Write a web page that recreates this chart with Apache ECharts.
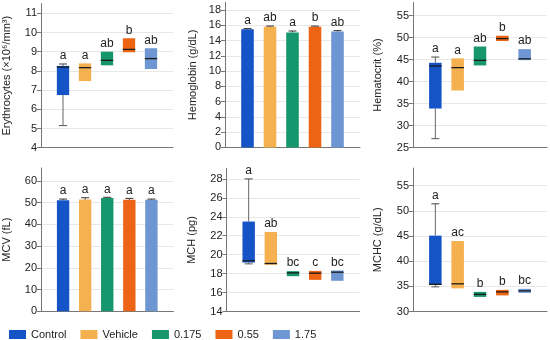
<!DOCTYPE html>
<html><head><meta charset="utf-8">
<script src="https://cdn.jsdelivr.net/npm/echarts@6/dist/echarts.min.js"></script>
<style>html,body{margin:0;padding:0;background:#fff}#c{width:550px;height:340px}</style>
</head><body><div id="c"></div>
<script>
// ---------- data ----------
const groups = ['Control', 'Vehicle', '0.175', '0.55', '1.75'];
const groupColors = ['#1554c6', '#f5b04f', '#16966c', '#ec6414', '#6e96d2'];

// Erythrocytes (box: low, high, median, whisker low, whisker high)
const eryLow = [6.74, 7.47, 8.29, 8.97, 8.10];
const eryHigh = [8.26, 8.39, 9.00, 9.70, 9.18];
const eryMedian = [8.20, 8.17, 8.55, 9.12, 8.64];
const eryWhiskerLow = [5.15, null, null, null, null];
const eryWhiskerHigh = [8.36, null, null, null, null];
const eryLetters = ['a', 'a', 'ab', 'b', 'ab'];
const eryTicks = [4, 5, 6, 7, 8, 9, 10, 11];

// Hemoglobin (bar: mean, upper error)
const hbMean = [15.47, 15.80, 15.07, 15.80, 15.20];
const hbErr = [0.10, 0.10, 0.18, 0.10, 0.10];
const hbLetters = ['a', 'ab', 'a', 'b', 'ab'];
const hbTicks = [0, 2, 4, 6, 8, 10, 12, 14, 16, 18];

// Hematocrit
const hctLow = [33.9, 38.0, 43.7, 49.24, 44.9];
const hctHigh = [44.3, 45.3, 48.0, 50.45, 47.4];
const hctMedian = [43.56, 43.2, 44.85, 49.8, 45.2];
const hctWhiskerLow = [27.05, null, null, null, null];
const hctWhiskerHigh = [45.6, null, null, null, null];
const hctLetters = ['a', 'a', 'ab', 'b', 'ab'];
const hctTicks = [25, 30, 35, 40, 45, 50, 55];

// MCV
const mcvMean = [51.2, 51.5, 52.2, 51.4, 51.4];
const mcvErr = [0.5, 0.8, 0.3, 0.6, 0.3];
const mcvLetters = ['a', 'a', 'a', 'a', 'a'];
const mcvTicks = [0, 10, 20, 30, 40, 50, 60];

// MCH
const mchLow = [19.17, 18.93, 17.73, 17.34, 17.24];
const mchHigh = [23.5, 22.4, 18.26, 18.29, 18.33];
const mchMedian = [19.35, 19.07, 18.08, 18.05, 18.15];
const mchWhiskerLow = [19.03, null, null, null, null];
const mchWhiskerHigh = [28.0, null, null, null, null];
const mchLetters = ['a', 'ab', 'bc', 'c', 'bc'];
const mchTicks = [14, 16, 18, 20, 22, 24, 26, 28];

// MCHC
const mchcLow = [35.3, 34.6, 32.9, 33.2, 33.7];
const mchcHigh = [45.08, 44.0, 33.9, 34.3, 34.5];
const mchcMedian = [35.4, 35.5, 33.4, 33.9, 34.1];
const mchcWhiskerLow = [34.9, null, null, null, null];
const mchcWhiskerHigh = [51.4, null, null, null, null];
const mchcLetters = ['a', 'ac', 'b', 'b', 'bc'];
const mchcTicks = [30, 35, 40, 45, 50, 55];

// ---------- panels ----------
const panels = [
  {kind: 'box', title: 'Erythrocytes (×10⁶/mm³)', low: eryLow, high: eryHigh, med: eryMedian, wl: eryWhiskerLow, wh: eryWhiskerHigh, letters: eryLetters, ticks: eryTicks, min: 4, max: 11.5},
  {kind: 'bar', title: 'Hemoglobin (g/dL)', mean: hbMean, err: hbErr, letters: hbLetters, ticks: hbTicks, min: 0, max: 19},
  {kind: 'box', title: 'Hematocrit (%)', low: hctLow, high: hctHigh, med: hctMedian, wl: hctWhiskerLow, wh: hctWhiskerHigh, letters: hctLetters, ticks: hctTicks, min: 25, max: 58},
  {kind: 'bar', title: 'MCV (fL)', mean: mcvMean, err: mcvErr, letters: mcvLetters, ticks: mcvTicks, min: 0, max: 66},
  {kind: 'box', title: 'MCH (pg)', low: mchLow, high: mchHigh, med: mchMedian, wl: mchWhiskerLow, wh: mchWhiskerHigh, letters: mchLetters, ticks: mchTicks, min: 14, max: 29.1},
  {kind: 'box', title: 'MCHC (g/dL)', low: mchcLow, high: mchcHigh, med: mchcMedian, wl: mchcWhiskerLow, wh: mchcWhiskerHigh, letters: mchcLetters, ticks: mchcTicks, min: 30, max: 58.5}
];

const gridLayout = [
  {left: 40, top: 3.7, width: 133, height: 144},
  {left: 225, top: 2.4, width: 135, height: 145},
  {left: 413, top: 2.5, width: 134, height: 145.2},
  {left: 39.5, top: 168, width: 134, height: 143.3},
  {left: 226.5, top: 168.5, width: 133, height: 143},
  {left: 413, top: 168.1, width: 134, height: 143.4}
];
const nameGaps = [29, 27, 30, 29, 29, 30];

const FONT = 'Liberation Sans, Arial, sans-serif';
const TXT = '#222';
const AXIS = '#777';

function letterText(x, y, txt) {
  return {type: 'text', style: {x: x, y: y, text: txt, fill: TXT, font: '12px ' + FONT, textAlign: 'center', textVerticalAlign: 'bottom'}};
}

function boxRenderer(letter, color) {
  return function (params, api) {
    const x = api.value(0);
    const lo = api.value(1), hi = api.value(2), med = api.value(3), wl = api.value(4), wh = api.value(5);
    const w = api.size([1, 0])[0] * 0.56;
    const pLo = api.coord([x, lo]), pHi = api.coord([x, hi]), pMed = api.coord([x, med]);
    const cx = pLo[0];
    const children = [];
    let topY = pHi[1];
    const cap = 4;
    if (!isNaN(wl) && wl !== null) {
      const p = api.coord([x, wl]);
      children.push({type: 'line', shape: {x1: cx, y1: pLo[1], x2: cx, y2: p[1]}, style: {stroke: '#666', lineWidth: 1}});
      children.push({type: 'line', shape: {x1: cx - cap, y1: p[1], x2: cx + cap, y2: p[1]}, style: {stroke: '#555', lineWidth: 1}});
    }
    if (!isNaN(wh) && wh !== null) {
      const p = api.coord([x, wh]);
      children.push({type: 'line', shape: {x1: cx, y1: pHi[1], x2: cx, y2: p[1]}, style: {stroke: '#666', lineWidth: 1}});
      children.push({type: 'line', shape: {x1: cx - cap, y1: p[1], x2: cx + cap, y2: p[1]}, style: {stroke: '#444', lineWidth: 1}});
      topY = Math.min(topY, p[1]);
    }
    children.push({type: 'rect', shape: {x: cx - w / 2, y: pHi[1], width: w, height: pLo[1] - pHi[1]}, style: {fill: color}});
    children.push({type: 'line', shape: {x1: cx - w / 2, y1: pMed[1], x2: cx + w / 2, y2: pMed[1]}, style: {stroke: '#1a1a1a', lineWidth: 1.3}});
    children.push(letterText(cx, topY - 2, letter));
    return {type: 'group', children: children};
  };
}

function barRenderer(letter, color) {
  return function (params, api) {
    const x = api.value(0), m = api.value(1), e = api.value(2);
    const w = api.size([1, 0])[0] * 0.56;
    const p0 = api.coord([x, 0]), pM = api.coord([x, m]), pE = api.coord([x, m + e]);
    const cx = p0[0];
    const cap = 4;
    return {type: 'group', children: [
      {type: 'rect', shape: {x: cx - w / 2, y: pM[1], width: w, height: p0[1] - pM[1]}, style: {fill: color}},
      {type: 'line', shape: {x1: cx, y1: pM[1], x2: cx, y2: pE[1]}, style: {stroke: '#333', lineWidth: 1}},
      {type: 'line', shape: {x1: cx - cap, y1: pE[1], x2: cx + cap, y2: pE[1]}, style: {stroke: '#333', lineWidth: 1}},
      letterText(cx, pE[1] - 2, letter)
    ]};
  };
}

const grid = [], xAxis = [], yAxis = [], series = [];
panels.forEach(function (p, k) {
  grid.push(Object.assign({containLabel: false}, gridLayout[k]));
  xAxis.push({type: 'value', gridIndex: k, min: -1, max: 5,
    axisLine: {onZero: false, lineStyle: {color: AXIS, width: 1}}, axisTick: {show: false}, axisLabel: {show: false}, splitLine: {show: false}});
  yAxis.push({type: 'value', gridIndex: k, min: p.min, max: p.max,
    name: p.title, nameLocation: 'middle', nameGap: nameGaps[k], nameRotate: 90,
    nameTextStyle: {fontSize: 11, color: TXT, fontFamily: FONT},
    axisLine: {show: true, onZero: false, lineStyle: {color: AXIS, width: 1}},
    axisTick: {show: true, length: 4, customValues: p.ticks, lineStyle: {color: AXIS}},
    axisLabel: {customValues: p.ticks, fontSize: 11, color: TXT, fontFamily: FONT, margin: 4},
    splitLine: {show: true, lineStyle: {color: '#e8e8e8', width: 1}}});
  groups.forEach(function (g, i) {
    let item, render;
    if (p.kind === 'box') {
      item = [i, p.low[i], p.high[i], p.med[i], p.wl[i] === null ? NaN : p.wl[i], p.wh[i] === null ? NaN : p.wh[i]];
      render = boxRenderer(p.letters[i], groupColors[i]);
    } else {
      item = [i, p.mean[i], p.err[i]];
      render = barRenderer(p.letters[i], groupColors[i]);
    }
    series.push({type: 'custom', name: g, xAxisIndex: k, yAxisIndex: k, itemStyle: {color: groupColors[i]},
      renderItem: render, data: [item], clip: false, silent: true});
  });
});

const chart = echarts.init(document.getElementById('c'), null, {renderer: 'canvas'});
chart.setOption({
  animation: false,
  textStyle: {fontFamily: FONT},
  grid: grid, xAxis: xAxis, yAxis: yAxis, series: series,
  legend: {data: groups, left: 4, top: 324, icon: 'rect', itemWidth: 17, itemHeight: 9, itemGap: 14,
    textStyle: {fontSize: 11, color: TXT, fontFamily: FONT}, selectedMode: false}
});
</script></body></html>
